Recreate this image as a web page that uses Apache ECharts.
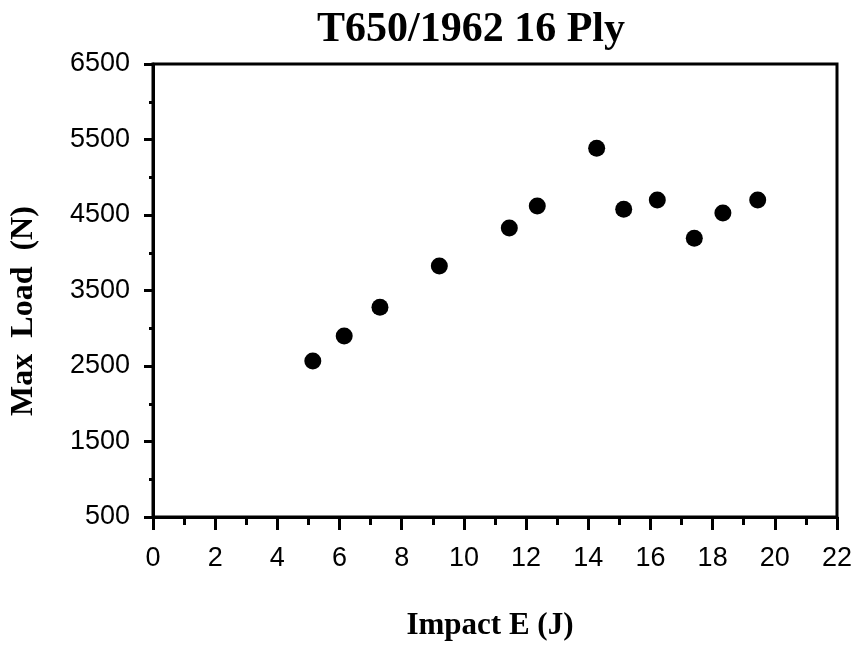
<!DOCTYPE html>
<html>
<head>
<meta charset="utf-8">
<script src="https://cdn.jsdelivr.net/npm/echarts@6/dist/echarts.min.js"></script>
<style>html,body{margin:0;padding:0;background:#fff}#c{width:858px;height:647px}</style>
</head>
<body>
<div id="c"></div>
<script>
var impactE = [5.14, 6.15, 7.30, 9.21, 11.46, 12.36, 14.27, 15.14, 16.22, 17.41, 18.33, 19.45];
var maxLoad = [2566, 2897, 3277, 3825, 4328, 4619, 5383, 4575, 4699, 4191, 4526, 4699];
var titleText = 'T650/1962 16 Ply';
var xName = 'Impact E (J)';
var yName = 'Max  Load  (N)';

var chart = echarts.init(document.getElementById('c'));
chart.setOption({
  backgroundColor: '#fff',
  animation: false,
  title: {
    text: titleText,
    left: 466, top: 4, textAlign: 'center',
    textStyle: {fontFamily: 'Liberation Serif', fontWeight: 'bold', fontSize: 42, color: '#000'}
  },
  graphic: [
    {type: 'text', x: 490, y: 626, style: {text: xName, font: 'bold 31px "Liberation Serif"', fill: '#000', align: 'center', verticalAlign: 'middle'}},
    {type: 'text', x: 24, y: 311, rotation: Math.PI/2, style: {text: yName, font: 'bold 32px "Liberation Serif"', fill: '#000', align: 'center', verticalAlign: 'middle'}}
  ],
  grid: {left: 153, right: 21, top: 64, bottom: 130, show: true, borderWidth: 3, borderColor: '#000'},
  xAxis: {
    type: 'value', min: 0, max: 22, interval: 2,
    axisLine: {show: true, lineStyle: {color: '#000', width: 3}},
    axisTick: {show: true, inside: false, length: 13, lineStyle: {color: '#000', width: 3}},
    minorTick: {show: true, splitNumber: 2, length: 8, lineStyle: {color: '#000', width: 3}},
    splitLine: {show: false},
    axisLabel: {margin: 28, fontFamily: 'Liberation Sans', fontSize: 27, color: '#000'}
  },
  yAxis: {
    type: 'value', min: 500, max: 6500, interval: 1000,
    axisLine: {show: true, lineStyle: {color: '#000', width: 3}},
    axisTick: {show: true, inside: false, length: 9, lineStyle: {color: '#000', width: 3}},
    minorTick: {show: true, splitNumber: 2, length: 4, lineStyle: {color: '#000', width: 3}},
    splitLine: {show: false},
    axisLabel: {margin: 23, fontFamily: 'Liberation Sans', fontSize: 27, color: '#000', formatter: function(v){ return String(v); }}
  },
  series: [{
    type: 'scatter',
    data: impactE.map(function(x, i){ return [x, maxLoad[i]]; }),
    symbol: 'circle', symbolSize: 17,
    itemStyle: {color: '#000', opacity: 1}
  }]
});
</script>
</body>
</html>
